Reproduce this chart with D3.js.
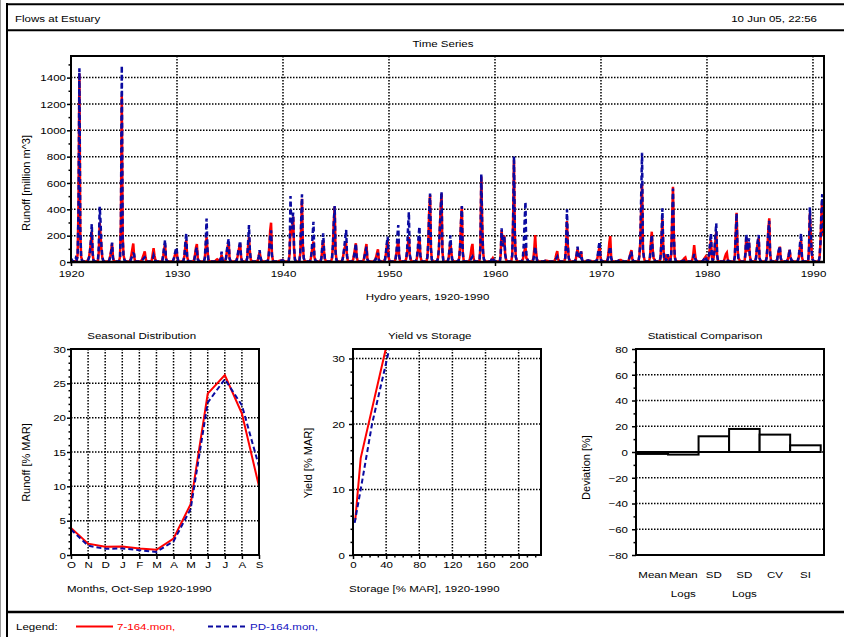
<!DOCTYPE html>
<html><head><meta charset="utf-8">
<script src="https://cdn.jsdelivr.net/npm/d3@7"></script>
<style>body{margin:0;background:#fff}svg{display:block}text{font-family:"Liberation Sans",Arial,sans-serif}</style>
</head><body><svg id="c" width="844" height="637"></svg>
<script>
// ---------------- DATA ----------------
const firstYear = 1920;
// monthly runoff [million m^3], hydro year rows: O N D J F M A M J J A S
const runoffRed = [
[8,5,4,3,3,4,12,60,420,1430,220,40],
[15,6,4,3,3,3,8,20,40,90,150,230],
[60,10,5,4,4,4,10,80,300,200,90,30],
[10,5,4,3,3,3,6,20,50,90,140,40],
[8,5,4,3,3,3,8,40,300,1260,200,50],
[20,6,4,3,3,3,6,20,60,100,140,40],
[10,5,4,3,3,3,5,10,20,40,60,80],
[30,5,4,3,3,3,5,15,60,105,50,15],
[8,4,3,3,3,3,5,15,50,100,130,30],
[10,4,3,3,3,3,5,10,25,50,70,90],
[30,6,4,3,3,3,5,15,50,120,167,40],
[15,5,4,3,3,3,6,20,60,110,137,30],
[10,5,4,3,3,3,6,30,110,190,90,20],
[8,4,3,3,3,3,4,8,15,20,15,8],
[10,20,55,15,5,4,6,30,80,120,150,30],
[10,5,4,3,3,3,6,15,40,80,110,140],
[40,6,4,3,3,3,6,30,120,190,80,20],
[8,4,3,3,3,3,5,15,40,75,40,10],
[8,4,3,3,3,3,5,30,120,240,298,60],
[15,5,4,3,3,3,5,8,10,12,12,15],
[10,5,4,3,3,3,8,60,270,200,250,345],
[100,20,6,4,4,4,8,60,250,480,120,30],
[10,5,4,3,3,3,6,25,70,120,155,40],
[15,5,4,3,3,3,6,30,100,167,80,20],
[10,5,4,3,3,3,6,30,120,300,420,80],
[20,6,4,3,3,3,6,20,60,100,120,130],
[40,6,4,3,3,3,6,20,60,100,142,40],
[10,5,4,3,3,3,6,20,60,100,137,30],
[8,4,3,3,3,3,5,10,20,40,70,96],
[20,5,4,3,3,3,6,20,60,120,167,40],
[10,5,4,3,3,3,6,25,70,120,167,40],
[10,5,4,3,3,3,6,25,70,140,190,50],
[20,6,4,3,3,3,6,25,70,140,190,50],
[15,5,4,3,3,3,6,40,150,380,508,100],
[20,6,4,3,3,3,6,30,100,250,400,520],
[80,10,5,3,3,3,6,30,90,155,80,20],
[10,5,4,3,3,3,6,30,120,300,420,80],
[15,5,4,3,3,3,6,20,60,110,137,40],
[10,5,4,3,3,3,8,120,647,300,80,20],
[8,4,3,3,3,3,5,10,20,30,15,8],
[8,4,3,3,3,3,60,243,150,120,200,60],
[20,6,4,3,3,3,8,50,300,773,200,40],
[15,5,4,3,3,3,6,20,50,90,116,30],
[20,5,4,3,3,3,6,30,100,205,80,20],
[8,4,3,3,3,3,4,6,8,10,10,8],
[6,4,3,3,3,3,4,10,30,60,83,20],
[10,5,4,3,3,3,6,30,120,310,120,30],
[10,5,4,3,3,3,5,20,60,100,50,40],
[40,80,20,3,3,3,4,8,10,12,10,8],
[8,4,3,3,3,3,5,15,50,90,116,30],
[10,4,3,3,3,3,5,20,70,150,197,40],
[10,4,3,3,3,3,4,8,12,15,15,10],
[8,4,3,3,3,3,5,15,40,70,90,20],
[10,4,3,3,3,3,6,50,150,400,590,100],
[40,10,4,3,3,3,6,40,150,230,100,30],
[20,5,4,3,3,3,6,40,150,330,120,30],
[40,10,20,60,20,5,8,60,300,571,200,40],
[15,5,4,3,3,3,4,8,12,20,30,35],
[10,4,3,3,3,3,5,20,60,129,60,15],
[8,4,3,3,3,3,5,10,20,30,40,15],
[10,20,60,120,167,40,10,30,80,160,230,50],
[10,4,3,3,3,3,5,15,40,60,70,20],
[8,4,3,3,3,3,5,40,200,374,120,30],
[20,5,4,3,3,3,6,60,190,100,80,150],
[50,10,4,3,3,3,5,30,100,150,180,30],
[10,5,4,3,3,3,6,30,120,250,331,60],
[10,4,3,3,3,3,5,20,60,90,116,30],
[8,4,3,3,3,3,5,20,50,91,40,15],
[10,4,3,3,3,3,5,20,60,120,167,40],
[10,4,3,3,3,3,5,100,369,200,80,20],
[10,4,3,3,3,3,5,40,150,350,470,200]
];
const runoffBlue = [
[25,8,5,4,4,30,20,40,380,1470,260,35],
[12,5,3,3,3,3,6,15,35,80,160,288],
[70,10,5,4,4,4,10,120,420,300,120,40],
[10,5,4,3,3,3,6,15,40,80,147,30],
[8,5,4,3,3,3,8,30,280,1490,180,40],
[15,5,4,3,3,3,5,15,30,50,65,60],
[8,4,3,3,3,3,4,8,12,20,30,35],
[15,4,3,3,3,3,4,10,25,50,30,10],
[6,4,3,3,3,3,5,12,60,120,167,25],
[8,4,3,3,3,3,4,8,30,60,90,110],
[40,6,4,3,3,3,5,15,60,150,217,30],
[10,4,3,3,3,3,5,15,50,90,110,20],
[10,4,3,3,3,3,5,30,150,330,100,15],
[6,4,3,3,3,3,4,6,10,15,10,6],
[10,30,78,15,5,4,6,30,90,140,177,25],
[8,4,3,3,3,3,5,12,40,90,120,160],
[40,5,3,3,3,3,5,30,150,280,90,15],
[6,4,3,3,3,3,4,10,40,90,40,8],
[6,4,3,3,3,3,5,25,100,200,240,50],
[12,4,3,3,3,3,4,6,8,10,10,14],
[10,5,4,3,3,3,8,80,500,250,300,375],
[120,20,6,4,4,4,8,60,300,515,140,30],
[10,5,4,3,3,3,6,25,80,200,305,50],
[15,5,4,3,3,3,6,30,120,217,90,20],
[10,5,4,3,3,3,6,30,120,300,425,70],
[15,5,4,3,3,3,5,20,60,120,180,243],
[50,6,4,3,3,3,5,15,50,90,140,30],
[8,4,3,3,3,3,5,15,50,80,115,20],
[6,4,3,3,3,3,4,8,15,30,50,70],
[15,5,4,3,3,3,6,20,70,140,192,40],
[10,5,4,3,3,3,6,25,80,200,280,50],
[10,5,4,3,3,3,6,25,90,250,380,60],
[20,6,4,3,3,3,6,30,90,200,268,50],
[15,5,4,3,3,3,6,40,150,380,520,100],
[20,6,4,3,3,3,6,30,100,250,400,533],
[80,10,5,3,3,3,6,30,100,202,90,20],
[10,5,4,3,3,3,6,30,120,300,425,70],
[10,4,3,3,3,3,5,10,20,30,40,15],
[10,5,4,3,3,3,8,120,667,280,70,20],
[8,4,3,3,3,3,5,10,25,35,15,8],
[8,4,3,3,3,3,60,255,150,120,200,60],
[20,6,4,3,3,3,8,50,300,803,200,40],
[15,5,4,3,3,3,6,30,120,300,457,60],
[30,5,4,3,3,3,6,20,60,116,50,15],
[8,4,3,3,3,3,4,6,8,10,10,8],
[6,4,3,3,3,3,4,8,15,30,40,10],
[10,5,4,3,3,3,6,30,150,400,130,30],
[10,5,4,3,3,3,5,20,60,116,50,50],
[40,80,20,3,3,3,4,8,10,12,10,8],
[8,4,3,3,3,3,5,20,60,120,155,30],
[10,4,3,3,3,3,5,15,40,90,116,30],
[10,4,3,3,3,3,4,8,12,15,15,10],
[8,4,3,3,3,3,5,15,40,60,78,20],
[10,4,3,3,3,3,6,50,150,500,830,100],
[40,10,4,3,3,3,6,40,130,205,100,30],
[20,5,4,3,3,3,6,40,180,407,120,30],
[40,10,20,60,20,5,8,60,300,558,200,40],
[10,4,3,3,3,3,4,6,8,10,12,15],
[8,4,3,3,3,3,4,10,30,60,30,10],
[8,4,3,3,3,3,5,10,20,30,40,15],
[10,20,60,150,217,40,10,30,90,200,293,50],
[8,4,3,3,3,3,4,8,12,15,20,10],
[8,4,3,3,3,3,5,40,200,369,120,30],
[20,5,4,3,3,3,6,60,210,100,90,180],
[50,10,4,3,3,3,5,30,100,160,205,30],
[10,5,4,3,3,3,6,30,120,240,313,60],
[10,4,3,3,3,3,5,20,60,95,121,30],
[8,4,3,3,3,3,5,20,50,96,40,15],
[10,4,3,3,3,3,5,30,80,150,217,40],
[10,4,3,3,3,3,5,100,415,220,80,20],
[10,4,3,3,3,3,5,40,150,380,515,220]
];
const yearTicks = [1920,1930,1940,1950,1960,1970,1980,1990];
const runoffTicks = [0,200,400,600,800,1000,1200,1400];

const monthLabels = ["O","N","D","J","F","M","A","M","J","J","A","S"];
const seasonalRed  = [3.95,1.65,1.2,1.25,0.95,0.75,2.4,7.4,23.5,26.2,20.6,10.0];
const seasonalBlue = [3.7,1.35,0.9,0.95,0.7,0.45,2.0,6.7,22.2,25.6,21.8,12.9];
const seasonalTicks = [0,5,10,15,20,25,30];

const storageRed  = [2.8, 9.3, 42];
const yieldRed    = [5.4, 14.8, 32.8];
const storageBlue = [2.0, 9.3, 23, 41.2, 46];
const yieldBlue   = [4.9, 10, 20, 30, 32.8];
const storageTicks = [0,40,80,120,160,200];
const yieldTicks = [0,10,20,30];

const statNames = ["Mean","Mean","SD","SD","CV","SI"];
const statSub   = ["","Logs","","Logs","",""];
const deviation = [-1.5,-2.0,12.2,17.9,13.5,5.2];
const deviationTicks = [-80,-60,-40,-20,0,20,40,60,80];

const seriesNames = ["7-164.mon,","PD-164.mon,"];
// ---------------- DRAW ----------------
const RED="#ff0000", BLUE="#0a0aa0", SX=1.24, FS=9.3;
const svg=d3.select("#c");
svg.append("rect").attr("width",844).attr("height",637).attr("fill","#fff");
const defs=svg.append("defs");

function txt(g,x,y,s,o={}){
  const t=g.append("text").text(s).attr("font-size",o.size||FS).attr("fill",o.fill||"#000")
   .attr("text-anchor",o.anchor||"start");
  if(o.rot) t.attr("transform",`translate(${x},${y}) rotate(-90)`).attr("font-size",o.size||11);
  else t.attr("transform",`translate(${x},${y}) scale(${SX},1)`);
  return t;
}
function hline(g,x1,x2,y,w,c){g.append("line").attr("x1",x1).attr("x2",x2).attr("y1",y).attr("y2",y).attr("stroke",c||"#000").attr("stroke-width",w);}
function vline(g,x,y1,y2,w,c){g.append("line").attr("x1",x).attr("x2",x).attr("y1",y1).attr("y2",y2).attr("stroke",c||"#000").attr("stroke-width",w);}
const DOT="1.5,1.5";
function gridY(g,y,vals,x0,x1){vals.forEach(v=>g.append("line").attr("x1",x0).attr("x2",x1).attr("y1",y(v)).attr("y2",y(v)).attr("stroke","#000").attr("stroke-width",1.5).attr("stroke-dasharray",DOT));}
function gridX(g,x,vals,y0,y1){vals.forEach(v=>g.append("line").attr("x1",x(v)).attr("x2",x(v)).attr("y1",y0).attr("y2",y1).attr("stroke","#000").attr("stroke-width",1.5).attr("stroke-dasharray",DOT));}
function leftAxis(g,y,x0,ticks,minor,fmt,pad){
  const a=g.append("g").attr("transform",`translate(${x0},0)`).call(d3.axisLeft(y).tickValues(ticks).tickSize(4).tickPadding(pad).tickFormat(fmt||d3.format("d")));
  a.select(".domain").remove();
  a.selectAll("line").attr("stroke-width",1.5);
  a.selectAll("text").attr("font-size",FS).attr("font-family",null).attr("dy","0.35em").each(function(){const t=d3.select(this);t.attr("x",(+t.attr("x"))/SX).attr("transform",`scale(${SX},1)`);});
  if(minor){const m=g.append("g").attr("transform",`translate(${x0},0)`).call(d3.axisLeft(y).tickValues(minor).tickSize(2.5).tickFormat(""));m.select(".domain").remove();m.selectAll("line").attr("stroke-width",1.5);}
}
function bottomAxis(g,x,y0,ticks,minor,fmt,ty){
  const a=g.append("g").attr("transform",`translate(0,${y0})`).call(d3.axisBottom(x).tickValues(ticks).tickSize(4).tickFormat(fmt||d3.format("d")));
  a.select(".domain").remove();
  a.selectAll("line").attr("stroke-width",1.5);
  a.selectAll("text").attr("font-size",FS).attr("font-family",null).attr("y",ty).attr("dy",0).attr("transform",`scale(${SX},1)`).attr("x",0);
  if(minor){const m=g.append("g").attr("transform",`translate(0,${y0})`).call(d3.axisBottom(x).tickValues(minor).tickSize(2.5).tickFormat(""));m.select(".domain").remove();m.selectAll("line").attr("stroke-width",1.5);}
}
function clip(id,x,y,w,h){defs.append("clipPath").attr("id",id).append("rect").attr("x",x).attr("y",y).attr("width",w).attr("height",h);return `url(#${id})`;}

// page frame
vline(svg,0.5,0,637,1,"#9a9a9a");
vline(svg,7,3,637,2);
hline(svg,6,844,4.2,2);
hline(svg,6,844,30.3,2);
hline(svg,6,844,612,2.5);
txt(svg,15,21.5,"Flows at Estuary");
txt(svg,817,21.5,"10 Jun 05, 22:56",{anchor:"end"});

// ---------- Time series ----------
{
  const L=71,R=824,T=56,B=262;
  const x=d3.scaleLinear().domain([1920,1991.04]).range([L,R]);
  const y=d3.scaleLinear().domain([0,1564]).range([B,T]);
  const g=svg.append("g");
  gridY(g,y,runoffTicks.slice(1),L,R);
  gridX(g,x,yearTicks.slice(1),T,B);
  const toPts=rows=>rows.flatMap((row,yi)=>row.map((v,m)=>[firstYear+yi+(m+0.5)/12,v]));
  const line=d3.line().x(d=>x(d[0])).y(d=>y(d[1]));
  const cp=clip("ts",L,T,R-L,B-T);
  g.append("path").attr("d",line(toPts(runoffRed))).attr("fill","none").attr("stroke",RED).attr("stroke-width",2.5).attr("clip-path",cp);
  g.append("path").attr("d",line(toPts(runoffBlue))).attr("fill","none").attr("stroke",BLUE).attr("stroke-width",2.5).attr("stroke-dasharray","5,3").attr("clip-path",cp);
  g.append("rect").attr("x",L).attr("y",T).attr("width",R-L).attr("height",B-T).attr("fill","none").attr("stroke","#000").attr("stroke-width",2);
  hline(g,L-1,R+1,B,2.5);
  leftAxis(g,y,L,runoffTicks,d3.range(100,1600,200),null,1);
  bottomAxis(g,x,B,yearTicks,null,d3.format("d"),15);
  txt(g,443,47,"Time Series",{anchor:"middle"});
  txt(g,427.5,300,"Hydro years, 1920-1990",{anchor:"middle"});
  txt(g,30,183,"Runoff [million m^3]",{rot:true,anchor:"middle"});
}

// ---------- Seasonal ----------
{
  const L=71,R=259,T=349,B=555;
  const x=d3.scalePoint().domain(d3.range(12)).range([L,R]);
  const y=d3.scaleLinear().domain([0,30]).range([B,T]);
  const g=svg.append("g");
  gridY(g,y,seasonalTicks.slice(1,-1),L,R);
  gridX(g,x,d3.range(1,11),T,B);
  const cp=clip("se",L,T,R-L,B-T);
  const line=d3.line().x((d,i)=>x(i)).y(d=>y(d));
  g.append("path").attr("d",line(seasonalRed)).attr("fill","none").attr("stroke",RED).attr("stroke-width",2).attr("clip-path",cp);
  g.append("path").attr("d",line(seasonalBlue)).attr("fill","none").attr("stroke",BLUE).attr("stroke-width",2).attr("stroke-dasharray","5,3").attr("clip-path",cp);
  g.append("rect").attr("x",L).attr("y",T).attr("width",R-L).attr("height",B-T).attr("fill","none").attr("stroke","#000").attr("stroke-width",2);
  leftAxis(g,y,L,seasonalTicks,d3.range(1,30).filter(v=>v%5),null,1);
  bottomAxis(g,x,B,d3.range(12),null,i=>monthLabels[i],13);
  txt(g,141.7,339,"Seasonal Distribution",{anchor:"middle"});
  txt(g,67,591.5,"Months, Oct-Sep  1920-1990");
  txt(g,30,462.5,"Runoff [% MAR]",{rot:true,anchor:"middle"});
}

// ---------- Yield vs Storage ----------
{
  const L=353,R=541,T=349,B=555;
  const x=d3.scaleLinear().domain([0,227]).range([L,R]);
  const y=d3.scaleLinear().domain([0,31.45]).range([B,T]);
  const g=svg.append("g");
  gridY(g,y,yieldTicks.slice(1),L,R);
  gridX(g,x,storageTicks.slice(1),T,B);
  const cp=clip("ys",L,T,R-L,B-T);
  const line=d3.line().x(d=>x(d[0])).y(d=>y(d[1]));
  g.append("path").attr("d",line(storageRed.map((s,i)=>[s,yieldRed[i]]))).attr("fill","none").attr("stroke",RED).attr("stroke-width",2).attr("clip-path",cp);
  g.append("path").attr("d",line(storageBlue.map((s,i)=>[s,yieldBlue[i]]))).attr("fill","none").attr("stroke",BLUE).attr("stroke-width",2).attr("stroke-dasharray","5,3").attr("clip-path",cp);
  g.append("rect").attr("x",L).attr("y",T).attr("width",R-L).attr("height",B-T).attr("fill","none").attr("stroke","#000").attr("stroke-width",2);
  leftAxis(g,y,L,yieldTicks,d3.range(2,31,2).filter(v=>v%10),null,4);
  bottomAxis(g,x,B,storageTicks,d3.range(10,227,10).filter(v=>v%40),null,13);
  txt(g,429.7,339,"Yield vs Storage",{anchor:"middle"});
  txt(g,349,591.5,"Storage [% MAR], 1920-1990");
  txt(g,311.5,463,"Yield [% MAR]",{rot:true,anchor:"middle"});
}

// ---------- Statistical comparison ----------
{
  const L=636,R=824,T=349,B=555;
  const x=d3.scaleBand().domain(d3.range(statNames.length)).range([L+1.5,R-3.3]);
  const y=d3.scaleLinear().domain([-80,80]).range([B,T]);
  const g=svg.append("g");
  gridY(g,y,deviationTicks.slice(1,-1),L,R);
  g.selectAll("rect.bar").data(deviation).join("rect").attr("class","bar")
   .attr("x",(d,i)=>x(i)).attr("width",x.bandwidth())
   .attr("y",d=>y(Math.max(0,d))).attr("height",d=>Math.abs(y(d)-y(0)))
   .attr("fill","#fff").attr("stroke","#000").attr("stroke-width",2);
  g.append("rect").attr("x",L).attr("y",T).attr("width",R-L).attr("height",B-T).attr("fill","none").attr("stroke","#000").attr("stroke-width",2);
  leftAxis(g,y,L,deviationTicks,d3.range(-70,80,20),null,4);
  statNames.forEach((s,i)=>{
    txt(g,x(i)+x.bandwidth()/2,578,s,{anchor:"middle"});
    if(statSub[i]) txt(g,x(i)+x.bandwidth()/2,597,statSub[i],{anchor:"middle"});
  });
  txt(g,705,339,"Statistical Comparison",{anchor:"middle"});
  txt(g,590,467.5,"Deviation [%]",{rot:true,anchor:"middle"});
}

// ---------- Legend ----------
{
  const g=svg.append("g");
  txt(g,16,630,"Legend:");
  hline(g,76,113,626.5,2,RED);
  txt(g,117,630,seriesNames[0],{fill:RED});
  g.append("line").attr("x1",208).attr("x2",247).attr("y1",626.5).attr("y2",626.5).attr("stroke",BLUE).attr("stroke-width",2).attr("stroke-dasharray","5,3");
  txt(g,250,630,seriesNames[1],{fill:"#1010c0"});
}
</script></body></html>
